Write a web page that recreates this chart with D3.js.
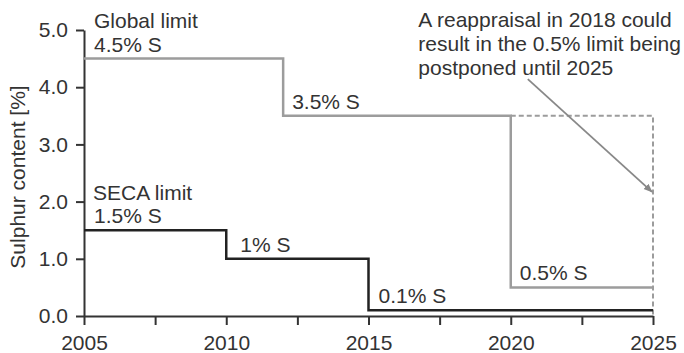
<!DOCTYPE html>
<html>
<head>
<meta charset="utf-8">
<script src="https://cdn.jsdelivr.net/npm/d3@7"></script>
<style>
  body { margin: 0; background: #fff; }
  svg { font-family: "Liberation Sans", Arial, sans-serif; }
</style>
</head>
<body>
<svg id="chart" width="684" height="353"></svg>
<script>
// step series
const globalYears = [2005, 2012, 2020, 2025];
const globalValues = [4.5, 3.5, 0.5, 0.5];
const secaYears = [2005, 2010, 2015, 2025];
const secaValues = [1.5, 1.0, 0.1, 0.1];
// possible postponement (dashed)
const postponeYears = [2020, 2025, 2025];
const postponeValues = [3.5, 3.5, 0];

const yTicks = [0, 1, 2, 3, 4, 5];
const xTicks = [2005, 2007.5, 2010, 2012.5, 2015, 2017.5, 2020, 2022.5, 2025];
const xLabels = [2005, 2010, 2015, 2020, 2025];

const stepLabels = ["4.5% S", "3.5% S", "0.5% S"];
const secaLabels = ["1.5% S", "1% S", "0.1% S"];
const noteLines = ["A reappraisal in 2018 could", "result in the 0.5% limit being", "postponed until 2025"];

const svg = d3.select("#chart");
const x = d3.scaleLinear().domain([2005, 2025]).range([84, 653]);
const y = d3.scaleLinear().domain([0, 5]).range([316, 30]);

const axisColor = "#333";
const grey = "#9c9c9c";
const dark = "#222";
const fs = "21px";

// y axis
const yAxis = svg.append("g")
  .attr("transform", `translate(${x(2005)},0)`)
  .call(d3.axisLeft(y).tickValues(yTicks).tickFormat(d3.format(".1f")).tickSize(8).tickSizeOuter(0).tickPadding(8));

// x axis
const xAxis = svg.append("g")
  .attr("transform", `translate(0,${y(0)})`)
  .call(d3.axisBottom(x).tickValues(xTicks)
    .tickFormat(d => xLabels.includes(d) ? d : "")
    .tickSize(9).tickSizeOuter(0).tickPadding(10));

[yAxis, xAxis].forEach(g => {
  g.select(".domain").attr("stroke", axisColor).attr("stroke-width", 2);
  g.selectAll(".tick line").attr("stroke", axisColor).attr("stroke-width", 2);
  g.selectAll(".tick text").attr("fill", "#333").style("font-size", fs);
});

svg.append("text")
  .attr("transform", `translate(25,${(y(0) + y(5)) / 2 + 4}) rotate(-90)`)
  .attr("text-anchor", "middle")
  .attr("fill", "#333")
  .style("font-size", fs)
  .text("Sulphur content [%]");

const line = d3.line().x(d => x(d[0])).y(d => y(d[1]));
const step = d3.line().x(d => x(d[0])).y(d => y(d[1])).curve(d3.curveStepAfter);

svg.append("path")
  .datum(d3.zip(postponeYears, postponeValues))
  .attr("d", line)
  .attr("fill", "none")
  .attr("stroke", grey)
  .attr("stroke-width", 2)
  .attr("stroke-dasharray", "5,3");

svg.append("path")
  .datum(d3.zip(globalYears, globalValues))
  .attr("d", step)
  .attr("fill", "none")
  .attr("stroke", grey)
  .attr("stroke-width", 2.5);

svg.append("path")
  .datum(d3.zip(secaYears, secaValues))
  .attr("d", step)
  .attr("fill", "none")
  .attr("stroke", dark)
  .attr("stroke-width", 2.5);

const label = (tx, px, py) => svg.append("text")
  .attr("x", px).attr("y", py)
  .attr("fill", "#333")
  .style("font-size", fs)
  .text(tx);

// series names
label("Global limit", x(2005) + 10, y(globalValues[0]) - 31);
label("SECA limit", x(2005) + 9, y(secaValues[0]) - 30);

stepLabels.forEach((t, i) => label(t, x(globalYears[i]) + (i === 0 ? 10 : 9), y(globalValues[i]) - 7));
secaLabels.forEach((t, i) => label(t, x(secaYears[i]) + (i === 1 ? 14 : 10), y(secaValues[i]) - 7));

// annotation
noteLines.forEach((t, i) => label(t, x(2016.75), 27 + i * 24));

svg.append("defs").append("marker")
  .attr("id", "arrow")
  .attr("viewBox", "0 0 10 10")
  .attr("refX", 9).attr("refY", 5)
  .attr("markerWidth", 5).attr("markerHeight", 5)
  .attr("orient", "auto")
  .append("path")
  .attr("d", "M0,1 L10,5 L0,9 Z")
  .attr("fill", "#888");

svg.append("line")
  .attr("x1", x(2020.6)).attr("y1", y(4.14))
  .attr("x2", x(2025) - 1).attr("y2", y(2.17))
  .attr("stroke", "#888")
  .attr("stroke-width", 1.8)
  .attr("marker-end", "url(#arrow)");
</script>
</body>
</html>
